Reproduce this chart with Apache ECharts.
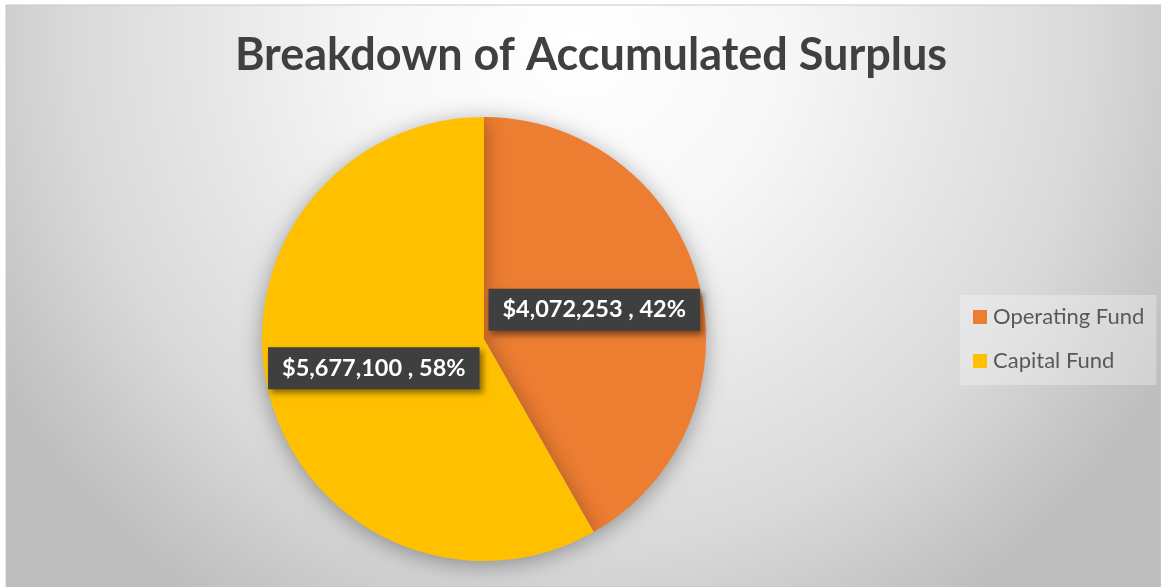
<!DOCTYPE html>
<html>
<head>
<meta charset="utf-8">
<script src="https://cdn.jsdelivr.net/npm/echarts@6/dist/echarts.min.js"></script>
<style>
html,body{margin:0;padding:0;background:#fff;}
#chart{width:1161px;height:587px;}
</style>
</head>
<body>
<div id="chart"></div>
<script>
const titleText = 'Breakdown of Accumulated Surplus';
const categories = ['Operating Fund', 'Capital Fund'];
const values = [4072253, 5677100];
const colors = ['#ED7D31', '#FFC000'];

const total = values.reduce((a, b) => a + b, 0);
const chart = echarts.init(document.getElementById('chart'), null, {renderer: 'canvas'});

const option = {
  animation: false,
  backgroundColor: '#ffffff',
  graphic: [{
    type: 'rect',
    z: -10,
    silent: true,
    shape: {x: 6, y: 5, width: 1155, height: 582},
    style: {
      fill: {
        type: 'radial', x: 580, y: 40, r: 680, global: true,
        colorStops: [
          {offset: 0, color: '#ffffff'},
          {offset: 0.3, color: '#f7f7f7'},
          {offset: 0.75, color: '#d9d9d9'},
          {offset: 1, color: '#bdbdbd'}
        ]
      },
      stroke: '#c8c8c8',
      lineWidth: 1
    }
  }],
  title: {
    text: titleText,
    left: 586,
    textAlign: 'center',
    top: 28,
    textStyle: {
      fontFamily: 'Lato',
      fontWeight: 'bold',
      fontSize: 45,
      color: '#404040'
    }
  },
  legend: {
    orient: 'vertical',
    left: 960,
    top: 295,
    padding: [11, 12, 13, 13],
    backgroundColor: 'rgba(255,255,255,0.3)',
    itemWidth: 14,
    itemHeight: 14,
    itemGap: 22,
    icon: 'rect',
    data: categories,
    textStyle: {
      fontFamily: 'Lato',
      fontSize: 22,
      lineHeight: 22,
      color: '#595959',
      padding: [0, 0, 0, 1]
    }
  },
  series: [{
    type: 'pie',
    center: [484, 339],
    radius: 222,
    startAngle: 90,
    clockwise: true,
    label: {
      show: true,
      position: 'inside',
      formatter: p => '$' + p.value.toLocaleString('en-US') + ' , ' + Math.round(p.value / total * 100) + '%',
      fontFamily: 'Lato',
      fontWeight: 'bold',
      fontSize: 23.5,
      lineHeight: 24,
      color: '#ffffff',
      backgroundColor: '#3f3f3f',
      padding: [9, 14, 9, 14],
      shadowColor: 'rgba(0,0,0,0.45)',
      shadowBlur: 6,
      shadowOffsetX: 3,
      shadowOffsetY: 4
    },
    labelLine: {show: false},
    itemStyle: {
      shadowColor: 'rgba(0,0,0,0.35)',
      shadowBlur: 22,
      shadowOffsetY: 4
    },
    emphasis: {disabled: true},
    data: categories.map((c, i) => ({name: c, value: values[i], itemStyle: {color: colors[i]}}))
  }]
};
chart.setOption(option);
</script>
</body>
</html>
